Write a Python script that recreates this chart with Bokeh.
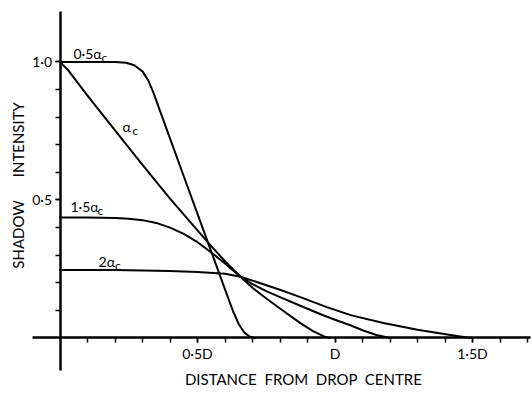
import math
from bokeh.plotting import figure
from bokeh.models import LinearAxis, FixedTicker, Label, Range1d
from bokeh.embed import file_html
from bokeh.resources import INLINE

# ---- data ----
# curve 0.5 alpha_c
s05_x = [0, 0.1, 0.2, 0.24, 0.27, 0.3, 0.32, 0.34, 0.36, 0.4, 0.45, 0.5, 0.55, 0.6, 0.63, 0.65, 0.67, 0.69, 0.71]
s05_y = [1.0, 1.0, 1.0, 0.997, 0.988, 0.966, 0.935, 0.888, 0.833, 0.723, 0.586, 0.45, 0.313, 0.176, 0.095, 0.05, 0.02, 0.005, 0.0]
# curve alpha_c
s10_x = [0, 0.03, 0.1, 0.2, 0.3, 0.4, 0.5, 0.55, 0.6, 0.656, 0.7, 0.75, 0.8, 0.874, 0.92, 0.96, 0.98]
s10_y = [1.0, 0.97, 0.878, 0.752, 0.627, 0.505, 0.39, 0.333, 0.278, 0.222, 0.182, 0.143, 0.107, 0.054, 0.025, 0.006, 0.0]
# curve 1.5 alpha_c
s15_x = [0, 0.1, 0.2, 0.25, 0.3, 0.35, 0.4, 0.45, 0.5, 0.55, 0.6, 0.656, 0.7, 0.75, 0.8, 0.874, 0.95, 1.0, 1.056, 1.1, 1.15, 1.2]
s15_y = [0.437, 0.437, 0.435, 0.432, 0.427, 0.417, 0.4, 0.377, 0.347, 0.31, 0.27, 0.222, 0.195, 0.17, 0.148, 0.117, 0.085, 0.066, 0.046, 0.028, 0.011, 0.0]
# curve 2 alpha_c
s20_x = [0, 0.2, 0.3, 0.4, 0.5, 0.6, 0.656, 0.7, 0.8, 0.874, 0.97, 1.06, 1.176, 1.3, 1.42, 1.48, 1.5]
s20_y = [0.246, 0.246, 0.245, 0.243, 0.239, 0.233, 0.222, 0.208, 0.175, 0.148, 0.112, 0.082, 0.054, 0.03, 0.011, 0.002, 0.0]

# ticks and tick labels
x_major = [0.5, 1.0, 1.5]
x_major_labels = ["0·5D", "D", "1·5D"]
x_minor = [0.1, 0.2, 0.3, 0.4, 0.5, 0.6, 0.7, 0.8, 0.9, 1.0, 1.1, 1.2, 1.3, 1.4, 1.5, 1.6, 1.7]
y_major = [0.5, 1.0]
y_major_labels = ["0·5", "1·0"]
y_minor = [0.1, 0.2, 0.3, 0.4, 0.5, 0.6, 0.7, 0.8, 0.9, 1.0]

# curve labels: (main text, subscript, x, y, sub x, sub y)
curve_labels = [
    ("0·5α", "c", 0.049, 1.032, 0.151, 1.018),
    ("α", "c", 0.227, 0.765, 0.264, 0.751),
    ("1·5α", "c", 0.038, 0.477, 0.136, 0.463),
    ("2α", "c", 0.14, 0.278, 0.200, 0.264),
]

FONT = "Lato"
INK = "#000000"

p = figure(width=531, height=393,
           x_range=Range1d(-0.2164, 1.7145), y_range=Range1d(-0.2011, 1.2228),
           x_axis_type=None, y_axis_type=None,
           output_backend="svg", toolbar_location=None,
           min_border_left=0, min_border_right=0, min_border_top=0, min_border_bottom=0)
p.outline_line_color = None
p.background_fill_color = "white"
p.border_fill_color = "white"

for xs, ys in [(s05_x, s05_y), (s10_x, s10_y), (s15_x, s15_y), (s20_x, s20_y)]:
    p.line(xs, ys, line_color=INK, line_width=2, line_join="round", line_cap="round")

def style_axis(ax):
    ax.axis_line_width = 2.5
    ax.axis_line_color = INK
    ax.major_tick_line_color = INK
    ax.minor_tick_line_color = INK
    ax.major_tick_line_width = 1.5
    ax.minor_tick_line_width = 1.5
    ax.major_tick_in = 0
    ax.major_tick_out = 5
    ax.minor_tick_in = 0
    ax.minor_tick_out = 5
    ax.major_label_text_font = FONT
    ax.major_label_text_font_size = "14px"
    ax.major_label_text_color = INK

xaxis = LinearAxis(fixed_location=0, bounds=(-0.1, 1.711),
                   ticker=FixedTicker(ticks=x_major, minor_ticks=x_minor),
                   major_label_overrides=dict(zip(x_major, x_major_labels)))
style_axis(xaxis)
xaxis.major_label_standoff = 2
p.add_layout(xaxis, "below")

yaxis = LinearAxis(fixed_location=0, bounds=(-0.118, 1.183),
                   ticker=FixedTicker(ticks=y_major, minor_ticks=y_minor),
                   major_label_overrides=dict(zip(y_major, y_major_labels)))
style_axis(yaxis)
yaxis.major_label_standoff = 3
p.add_layout(yaxis, "left")

# axis titles
p.add_layout(Label(x=0.885, y=-0.147, text="DISTANCE\u00a0 FROM\u00a0 DROP\u00a0 CENTRE",
                   text_font=FONT, text_font_size="15px", text_color=INK,
                   text_align="center", text_baseline="middle"))
p.add_layout(Label(x=-0.151, y=0.553, text="SHADOW\u00a0\u00a0\u00a0\u00a0\u00a0 INTENSITY", angle=math.pi / 2,
                   text_font=FONT, text_font_size="15px", text_color=INK,
                   text_align="center", text_baseline="middle"))

for main, sub, mx, my, sx, sy in curve_labels:
    p.add_layout(Label(x=mx, y=my, text=main, text_font=FONT, text_font_size="14px",
                       text_color=INK, text_align="left", text_baseline="middle"))
    p.add_layout(Label(x=sx, y=sy, text=sub, text_font=FONT, text_font_size="12px",
                       text_color=INK, text_align="left", text_baseline="middle"))

open("out.html", "w").write(file_html(p, INLINE))
